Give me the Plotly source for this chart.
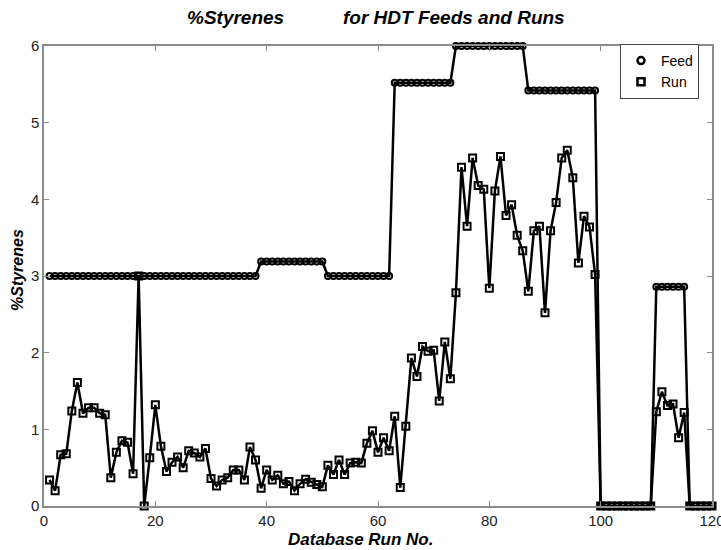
import plotly.graph_objects as go

run_no = list(range(1, 121))

feed_styrenes = [
    3.0, 3.0, 3.0, 3.0, 3.0, 3.0, 3.0, 3.0, 3.0, 3.0,
    3.0, 3.0, 3.0, 3.0, 3.0, 3.0, 3.0, 3.0, 3.0, 3.0,
    3.0, 3.0, 3.0, 3.0, 3.0, 3.0, 3.0, 3.0, 3.0, 3.0,
    3.0, 3.0, 3.0, 3.0, 3.0, 3.0, 3.0, 3.0, 3.19, 3.19,
    3.19, 3.19, 3.19, 3.19, 3.19, 3.19, 3.19, 3.19, 3.19, 3.19,
    3.0, 3.0, 3.0, 3.0, 3.0, 3.0, 3.0, 3.0, 3.0, 3.0,
    3.0, 3.0, 5.52, 5.52, 5.52, 5.52, 5.52, 5.52, 5.52, 5.52,
    5.52, 5.52, 5.52, 6.0, 6.0, 6.0, 6.0, 6.0, 6.0, 6.0,
    6.0, 6.0, 6.0, 6.0, 6.0, 6.0, 5.42, 5.42, 5.42, 5.42,
    5.42, 5.42, 5.42, 5.42, 5.42, 5.42, 5.42, 5.42, 5.42, 0.0,
    0.0, 0.0, 0.0, 0.0, 0.0, 0.0, 0.0, 0.0, 0.0, 2.86,
    2.86, 2.86, 2.86, 2.86, 2.86, 0.0, 0.0, 0.0, 0.0, 0.0,
]

run_styrenes = [
    0.34, 0.20, 0.67, 0.68, 1.24, 1.61, 1.21, 1.28, 1.28, 1.21,
    1.19, 0.37, 0.70, 0.85, 0.83, 0.42, 3.00, 0.00, 0.63, 1.32,
    0.78, 0.45, 0.57, 0.64, 0.50, 0.72, 0.69, 0.64, 0.75, 0.36,
    0.26, 0.34, 0.37, 0.47, 0.47, 0.34, 0.77, 0.60, 0.23, 0.47,
    0.34, 0.40, 0.29, 0.32, 0.20, 0.29, 0.35, 0.31, 0.28, 0.25,
    0.53, 0.41, 0.60, 0.41, 0.56, 0.57, 0.56, 0.82, 0.98, 0.70,
    0.89, 0.72, 1.17, 0.24, 1.04, 1.93, 1.69, 2.08, 2.02, 2.03,
    1.37, 2.14, 1.66, 2.78, 4.42, 3.65, 4.54, 4.18, 4.13, 2.84,
    4.11, 4.56, 3.79, 3.93, 3.53, 3.33, 2.80, 3.59, 3.65, 2.52,
    3.59, 3.96, 4.54, 4.64, 4.28, 3.17, 3.78, 3.64, 3.02, 0.0,
    0.0, 0.0, 0.0, 0.0, 0.0, 0.0, 0.0, 0.0, 0.0, 1.23,
    1.49, 1.31, 1.33, 0.89, 1.22, 0.0, 0.0, 0.0, 0.0, 0.0,
]

x_ticks = [0, 20, 40, 60, 80, 100, 120]
y_ticks = [0, 1, 2, 3, 4, 5, 6]

FONT = "Liberation Sans, Arial, sans-serif"
AXIS_GRAY = "#8c8c8c"

fig = go.Figure()

fig.add_trace(go.Scatter(
    x=run_no, y=feed_styrenes, mode="lines+markers", name="Feed",
    line=dict(color="black", width=2.5),
    marker=dict(symbol="circle-open", size=6, color="black", line=dict(width=2, color="black")),
    showlegend=False, cliponaxis=False,
))
fig.add_trace(go.Scatter(
    x=run_no, y=run_styrenes, mode="lines+markers", name="Run",
    line=dict(color="black", width=2.5),
    marker=dict(symbol="square-open", size=7, color="black", line=dict(width=2, color="black")),
    showlegend=False, cliponaxis=False,
))
# legend entries (marker only, like the original)
fig.add_trace(go.Scatter(
    x=[None], y=[None], mode="markers", name="Feed",
    marker=dict(symbol="circle-open", size=7, color="black", line=dict(width=2.5, color="black")),
))
fig.add_trace(go.Scatter(
    x=[None], y=[None], mode="markers", name="Run",
    marker=dict(symbol="square-open", size=7, color="black", line=dict(width=2.5, color="black")),
))

L, R, T, B = 44, 9, 46, 44
PW, PH = 721 - L - R, 550 - T - B

def px_x(p):
    return (p - L) / PW

def px_y(p):
    return (550 - B - p) / PH

title_font = dict(family=FONT, size=19, color="black")

fig.update_layout(
    width=721, height=550,
    margin=dict(l=L, r=R, t=T, b=B, autoexpand=False),
    paper_bgcolor="white", plot_bgcolor="white",
    font=dict(family=FONT, size=13, color="#222"),
    showlegend=True,
    legend=dict(
        x=px_x(699), y=px_y(44), xanchor="right", yanchor="top",
        bgcolor="white", bordercolor="#444", borderwidth=1,
        font=dict(family=FONT, size=14, color="black"),
        tracegroupgap=0, itemwidth=30,
    ),
    annotations=[
        dict(text="<b><i>%Styrenes</i></b>", xref="paper", yref="paper",
             x=px_x(235), y=px_y(18), xanchor="center", yanchor="middle",
             showarrow=False, font=title_font),
        dict(text="<b><i>for HDT Feeds and Runs</i></b>", xref="paper", yref="paper",
             x=px_x(454), y=px_y(18), xanchor="center", yanchor="middle",
             showarrow=False, font=title_font),
        dict(text="<b><i>Database Run No.</i></b>", xref="paper", yref="paper",
             x=px_x(360), y=px_y(539), xanchor="center", yanchor="middle",
             showarrow=False, font=dict(family=FONT, size=17, color="black")),
        dict(text="<b><i>%Styrenes</i></b>", xref="paper", yref="paper",
             x=px_x(17), y=px_y(270), xanchor="center", yanchor="middle",
             textangle=-90, showarrow=False, font=dict(family=FONT, size=16, color="black")),
    ],
    xaxis=dict(
        range=[0, 120], tickvals=x_ticks, ticktext=[str(v) for v in x_ticks],
        showgrid=False, zeroline=False, automargin=False,
        ticklabeloverflow="allow",
        showline=True, linecolor=AXIS_GRAY, linewidth=1.5, mirror="ticks",
        ticks="inside", ticklen=5, tickcolor=AXIS_GRAY, tickwidth=1,
        tickfont=dict(family=FONT, size=15, color="#222"),
    ),
    yaxis=dict(
        range=[0, 6], tickvals=y_ticks, ticktext=[str(v) for v in y_ticks],
        showgrid=False, zeroline=False, automargin=False,
        ticklabeloverflow="allow",
        showline=True, linecolor=AXIS_GRAY, linewidth=1.5, mirror="ticks",
        ticks="inside", ticklen=5, tickcolor=AXIS_GRAY, tickwidth=1,
        tickfont=dict(family=FONT, size=15, color="#222"),
    ),
)

fig.write_html(
    "out.html",
    config={"displayModeBar": False},
    post_script="document.body.style.margin='0';document.body.style.overflow='hidden';",
)
